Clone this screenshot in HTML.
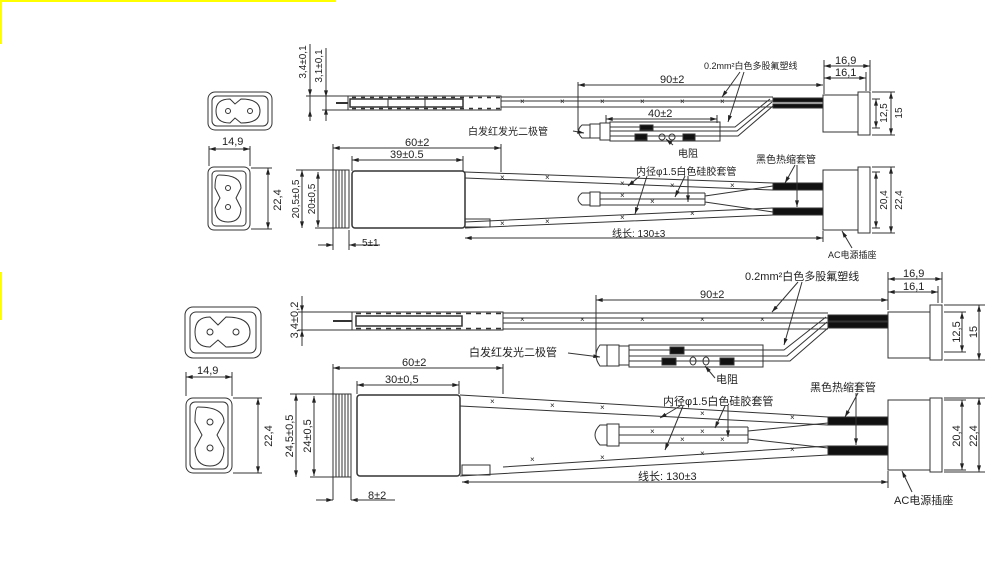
<!DOCTYPE html>
<html><head><meta charset="utf-8"><style>
body{margin:0;background:#fff;}
svg{display:block;font-family:"Liberation Sans","Noto Sans CJK SC",sans-serif;}
text{fill:#222;}
</style></head><body>
<svg width="994" height="580" viewBox="0 0 994 580" xmlns="http://www.w3.org/2000/svg">
<defs>
<marker id="a" viewBox="0 0 10 6" refX="10" refY="3" markerWidth="7" markerHeight="4" orient="auto-start-reverse"><path d="M0,0L10,3L0,6z" fill="#222"/></marker>
</defs>
<rect x="0" y="0" width="336" height="2" fill="#ff0"/>
<rect x="0" y="0" width="2" height="44" fill="#ff0"/>
<rect x="0" y="272" width="2" height="48" fill="#ff0"/>
<g stroke="#333" stroke-width="1" fill="none">
<!-- ===== TOP SECTION ===== -->
<rect x="208" y="92" width="64" height="38" rx="7"/>
<rect x="212" y="96" width="56" height="30" rx="5"/>
<path d="M230,99 L235,104 L241,99 Q260,99 260,111 Q260,123 241,123 L235,118 L230,123 Q216,123 216,111 Q216,99 230,99z"/>
<circle cx="228" cy="111" r="2.5"/><circle cx="250" cy="111" r="2.5"/>
<rect x="208" y="167" width="42" height="63" rx="6"/>
<rect x="212" y="171" width="34" height="55" rx="4"/>
<path d="M219,175 Q241,175 241,188 L236,198 L241,208 Q241,222 228,222 Q215,222 215,208 L220,198 L215,188 Q215,175 219,175z"/>
<circle cx="228" cy="188" r="2.5"/><circle cx="228" cy="207" r="2.5"/>
<path d="M209,146 V166 M250,146 V166 M251,168 H272 M251,229 H272"/>
<line x1="209" y1="149" x2="250" y2="149" marker-start="url(#a)" marker-end="url(#a)"/>
<line x1="268" y1="168" x2="268" y2="229" marker-start="url(#a)" marker-end="url(#a)"/>
<!-- thin side view -->
<path d="M310,44 V121 M326,48 V121 M306,96 H348 M322,110 H348"/>
<line x1="310" y1="88" x2="310" y2="96" marker-end="url(#a)"/>
<line x1="310" y1="120" x2="310" y2="110" marker-end="url(#a)"/>
<line x1="326" y1="88" x2="326" y2="97" marker-end="url(#a)"/>
<line x1="326" y1="120" x2="326" y2="108" marker-end="url(#a)"/>
<path d="M336,103 H348" stroke-width="2"/>
<rect x="348" y="96" width="153" height="14"/>
<path d="M352,97.5 H500 M352,108.5 H500" stroke-dasharray="4,5" stroke-width="1.5"/>
<rect x="350" y="99" width="113" height="8" stroke-width="1.5"/>
<path d="M388,99V107 M425,99V107"/>
<path d="M501,97 H773 M501,101 H773 M501,107 H773"/>
<rect x="773" y="98" width="50" height="4" fill="#111"/>
<rect x="773" y="104" width="50" height="4" fill="#111"/>
<rect x="823" y="95" width="35" height="37"/>
<rect x="858" y="92" width="12" height="43"/>
<path d="M824,60 V94 M870,60 V91 M866,72 V91 M872,99 H880 M872,128 H880 M872,92 H895 M872,135 H895 M578,82 V130"/>
<line x1="824" y1="66" x2="870" y2="66" marker-start="url(#a)" marker-end="url(#a)"/>
<line x1="824" y1="78" x2="866" y2="78" marker-start="url(#a)" marker-end="url(#a)"/>
<line x1="876" y1="99" x2="876" y2="128" marker-start="url(#a)" marker-end="url(#a)"/>
<line x1="891" y1="92" x2="891" y2="135" marker-start="url(#a)" marker-end="url(#a)"/>
<line x1="578" y1="85" x2="823" y2="85" marker-start="url(#a)" marker-end="url(#a)"/>
<!-- LED assembly -->
<path d="M590,125 H582 Q575,131 582,138 H590z"/>
<rect x="590" y="124" width="10" height="14"/>
<rect x="600" y="123" width="10" height="17"/>
<rect x="610" y="122" width="110" height="19"/>
<path d="M610,127 H720 M610,131 H720 M610,136 H720"/>
<rect x="640" y="125" width="13" height="5" fill="#111"/>
<rect x="635" y="134" width="12" height="6" fill="#111"/>
<rect x="683" y="134" width="12" height="6" fill="#111"/>
<ellipse cx="662" cy="137" rx="3" ry="3"/><ellipse cx="672" cy="137" rx="3" ry="3"/>
<path d="M720,127 H735 L770,99 M720,136 H738 L773,106 M720,131 H737 L772,102"/>
<line x1="606" y1="119" x2="717" y2="119" marker-start="url(#a)" marker-end="url(#a)"/>
<path d="M606,115 V123 M717,115 V123"/>
<line x1="740" y1="72" x2="722" y2="97" marker-end="url(#a)"/>
<line x1="744" y1="72" x2="728" y2="122" marker-end="url(#a)"/>
<line x1="573" y1="131" x2="584" y2="133" marker-end="url(#a)"/>
<line x1="673" y1="145" x2="666" y2="139" marker-end="url(#a)"/>
<!-- bottom view -->
<path d="M333,144 V250 M501,144 V172 M352,156 V171 M463,156 V171 M296,170 H333 M315,228 H333 M349,230 V250"/>
<line x1="333" y1="148" x2="501" y2="148" marker-start="url(#a)" marker-end="url(#a)"/>
<line x1="352" y1="160" x2="463" y2="160" marker-start="url(#a)" marker-end="url(#a)"/>
<line x1="302" y1="170" x2="302" y2="228" marker-start="url(#a)" marker-end="url(#a)"/>
<line x1="318" y1="172" x2="318" y2="227" marker-start="url(#a)" marker-end="url(#a)"/>
<line x1="318" y1="245" x2="333" y2="245" marker-end="url(#a)"/>
<line x1="365" y1="245" x2="349" y2="245" marker-end="url(#a)"/>
<path d="M349,245 H380"/>
<rect x="333" y="170" width="16" height="58"/>
<path d="M336,170V228M339,170V228M342,170V228M345,170V228"/>
<rect x="352" y="171" width="113" height="57" rx="3" stroke-width="1.5"/>
<path d="M465,172 L773,183 M465,178 L773,190 M465,228 L773,215 M465,222 L773,208"/>
<rect x="465" y="219" width="25" height="8"/>
<rect x="773" y="183" width="50" height="7" fill="#111"/>
<rect x="773" y="208" width="50" height="7" fill="#111"/>
<path d="M590,193 H582 Q574,199 582,205 H590z"/>
<rect x="590" y="192" width="10" height="14"/>
<path d="M600,193 H705 M600,199 H705 M600,205 H705 M705,193 V205 M705,196 L773,186 M705,202 L773,212"/>
<rect x="823" y="170" width="35" height="60"/>
<rect x="858" y="167" width="12" height="66"/>
<path d="M872,172 H880 M872,228 H880 M872,167 H895 M872,233 H895 M823,231 V242"/>
<line x1="876" y1="172" x2="876" y2="228" marker-start="url(#a)" marker-end="url(#a)"/>
<line x1="891" y1="167" x2="891" y2="233" marker-start="url(#a)" marker-end="url(#a)"/>
<line x1="465" y1="238" x2="823" y2="238" marker-start="url(#a)" marker-end="url(#a)"/>
<line x1="640" y1="176" x2="628" y2="186" marker-end="url(#a)"/>
<line x1="647" y1="176" x2="635" y2="214" marker-end="url(#a)"/>
<line x1="685" y1="176" x2="675" y2="197" marker-end="url(#a)"/>
<line x1="688" y1="176" x2="688" y2="202" marker-end="url(#a)"/>
<line x1="795" y1="165" x2="785" y2="183" marker-end="url(#a)"/>
<line x1="797" y1="165" x2="797" y2="207" marker-end="url(#a)"/>
<line x1="852" y1="248" x2="842" y2="231" marker-end="url(#a)"/>
<!-- ===== BOTTOM SECTION ===== -->
<rect x="185" y="307" width="76" height="51" rx="8"/>
<rect x="190" y="312" width="66" height="41" rx="6"/>
<path d="M210,317 L218,325 L226,317 Q250,317 250,332 Q250,347 226,347 L218,340 L210,347 Q195,347 195,332 Q195,317 210,317z"/>
<circle cx="210" cy="332" r="3"/><circle cx="236" cy="332" r="3"/>
<rect x="186" y="398" width="46" height="75" rx="7"/>
<rect x="190" y="402" width="38" height="67" rx="5"/>
<path d="M198,407 Q224,407 224,422 L217,435 L224,448 Q224,466 210,466 Q195,466 195,448 L202,435 L195,422 Q195,407 198,407z"/>
<circle cx="210" cy="422" r="3"/><circle cx="210" cy="448" r="3"/>
<path d="M186,372 V396 M232,372 V396 M233,398 H262 M233,473 H262"/>
<line x1="186" y1="377" x2="232" y2="377" marker-start="url(#a)" marker-end="url(#a)"/>
<line x1="258" y1="398" x2="258" y2="473" marker-start="url(#a)" marker-end="url(#a)"/>
<path d="M302,296 V346 M298,312 H352 M298,330 H352"/>
<line x1="302" y1="300" x2="302" y2="312" marker-end="url(#a)"/>
<line x1="302" y1="342" x2="302" y2="330" marker-end="url(#a)"/>
<path d="M333,321 H352" stroke-width="2"/>
<rect x="352" y="312" width="151" height="18"/>
<path d="M356,313.5 H502 M356,328.5 H502" stroke-dasharray="5,5" stroke-width="1.5"/>
<rect x="356" y="316" width="106" height="10" stroke-width="1.5"/>
<path d="M503,313 H828 M503,318 H828 M503,323 H828 M503,329 H828"/>
<rect x="828" y="315" width="60" height="6" fill="#111"/>
<rect x="828" y="322" width="60" height="6" fill="#111"/>
<rect x="888" y="312" width="42" height="46"/>
<rect x="930" y="305" width="12" height="55"/>
<path d="M888,272 V310 M942,272 V303 M938,286 V303 M944,312 H966 M944,352 H966 M944,305 H985 M944,360 H985 M596,295 V355"/>
<line x1="888" y1="279" x2="942" y2="279" marker-start="url(#a)" marker-end="url(#a)"/>
<line x1="888" y1="292" x2="938" y2="292" marker-start="url(#a)" marker-end="url(#a)"/>
<line x1="962" y1="312" x2="962" y2="352" marker-start="url(#a)" marker-end="url(#a)"/>
<line x1="979" y1="305" x2="979" y2="360" marker-start="url(#a)" marker-end="url(#a)"/>
<line x1="596" y1="300" x2="888" y2="300" marker-start="url(#a)" marker-end="url(#a)"/>
<path d="M607,345 H600 Q592,355 600,366 H607z"/>
<rect x="607" y="345" width="12" height="21"/>
<rect x="619" y="346" width="10" height="19"/>
<rect x="629" y="345" width="134" height="22"/>
<path d="M629,350 H763 M629,356 H763 M629,361 H763"/>
<rect x="670" y="347" width="14" height="7" fill="#111"/>
<rect x="662" y="358" width="14" height="7" fill="#111"/>
<rect x="720" y="358" width="14" height="7" fill="#111"/>
<ellipse cx="693" cy="361" rx="3" ry="4"/><ellipse cx="706" cy="361" rx="3" ry="4"/>
<path d="M763,350 H784 L826,317 M763,361 H790 L828,328 M763,356 H787 L827,322"/>
<line x1="798" y1="282" x2="772" y2="312" marker-end="url(#a)"/>
<line x1="802" y1="282" x2="784" y2="345" marker-end="url(#a)"/>
<line x1="568" y1="353" x2="600" y2="357" marker-end="url(#a)"/>
<line x1="715" y1="378" x2="705" y2="366" marker-end="url(#a)"/>
<path d="M333,364 V500 M503,364 V394 M357,381 V394 M459,381 V394 M290,394 H333 M310,477 H333 M351,477 V500"/>
<line x1="333" y1="368" x2="503" y2="368" marker-start="url(#a)" marker-end="url(#a)"/>
<line x1="357" y1="385" x2="459" y2="385" marker-start="url(#a)" marker-end="url(#a)"/>
<line x1="296" y1="394" x2="296" y2="477" marker-start="url(#a)" marker-end="url(#a)"/>
<line x1="314" y1="396" x2="314" y2="476" marker-start="url(#a)" marker-end="url(#a)"/>
<line x1="316" y1="500" x2="333" y2="500" marker-end="url(#a)"/>
<line x1="368" y1="500" x2="351" y2="500" marker-end="url(#a)"/>
<path d="M351,500 H395"/>
<rect x="333" y="394" width="18" height="83"/>
<path d="M336,394V477M339,394V477M342,394V477M345,394V477M348,394V477"/>
<rect x="357" y="395" width="103" height="81" rx="3" stroke-width="1.5"/>
<path d="M460,395 L828,417 M460,406 L828,425 M460,476 L828,455 M503,467 L828,446"/>
<rect x="462" y="465" width="28" height="10"/>
<rect x="828" y="417" width="60" height="8" fill="#111"/>
<rect x="828" y="446" width="60" height="9" fill="#111"/>
<path d="M607,425 H600 Q590,435 600,445 H607z"/>
<rect x="607" y="424" width="12" height="22"/>
<path d="M619,427 H748 M619,435 H748 M619,443 H748 M748,427 V443 M748,431 L828,423 M748,439 L828,448"/>
<rect x="888" y="400" width="42" height="70"/>
<rect x="930" y="398" width="12" height="74"/>
<path d="M944,400 H966 M944,470 H966 M944,398 H985 M944,472 H985 M888,471 V488"/>
<line x1="962" y1="400" x2="962" y2="470" marker-start="url(#a)" marker-end="url(#a)"/>
<line x1="979" y1="398" x2="979" y2="472" marker-start="url(#a)" marker-end="url(#a)"/>
<line x1="462" y1="482" x2="888" y2="482" marker-start="url(#a)" marker-end="url(#a)"/>
<line x1="680" y1="406" x2="660" y2="418" marker-end="url(#a)"/>
<line x1="683" y1="406" x2="665" y2="450" marker-end="url(#a)"/>
<line x1="725" y1="406" x2="715" y2="428" marker-end="url(#a)"/>
<line x1="728" y1="406" x2="728" y2="437" marker-end="url(#a)"/>
<line x1="858" y1="393" x2="845" y2="417" marker-end="url(#a)"/>
<line x1="856" y1="393" x2="856" y2="445" marker-end="url(#a)"/>
<line x1="912" y1="492" x2="902" y2="471" marker-end="url(#a)"/>
</g>
<!-- wire x marks -->
<g font-size="8" fill="#444">
<text x="520" y="104">×</text><text x="560" y="104">×</text><text x="600" y="104">×</text><text x="640" y="104">×</text><text x="680" y="104">×</text><text x="720" y="104">×</text>
<text x="500" y="180">×</text><text x="545" y="180">×</text><text x="620" y="186">×</text><text x="670" y="188">×</text><text x="730" y="188">×</text>
<text x="500" y="226">×</text><text x="545" y="224">×</text><text x="620" y="220">×</text><text x="690" y="216">×</text>
<text x="620" y="198">×</text><text x="650" y="204">×</text>
<text x="520" y="322">×</text><text x="580" y="322">×</text><text x="640" y="322">×</text><text x="700" y="322">×</text><text x="760" y="322">×</text>
<text x="490" y="404">×</text><text x="550" y="408">×</text><text x="600" y="410">×</text><text x="700" y="416">×</text><text x="790" y="420">×</text>
<text x="530" y="462">×</text><text x="600" y="460">×</text><text x="700" y="456">×</text><text x="790" y="452">×</text>
<text x="650" y="434">×</text><text x="700" y="434">×</text><text x="680" y="442">×</text><text x="720" y="442">×</text>
</g>
<g font-size="11">
<text x="222" y="145">14,9</text>
<text transform="translate(281,200) rotate(-90)" text-anchor="middle">22,4</text>
<text transform="translate(306,62) rotate(-90)" text-anchor="middle" font-size="10">3,4±0,1</text>
<text transform="translate(322,66) rotate(-90)" text-anchor="middle" font-size="10">3,1±0,1</text>
<text x="405" y="146">60±2</text>
<text x="390" y="158">39±0.5</text>
<text transform="translate(299,199) rotate(-90)" text-anchor="middle" font-size="10">20,5±0,5</text>
<text transform="translate(315,199) rotate(-90)" text-anchor="middle" font-size="10">20±0,5</text>
<text x="362" y="246" font-size="10">5±1</text>
<text x="660" y="83">90±2</text>
<text x="648" y="117">40±2</text>
<text x="835" y="64">16,9</text>
<text x="835" y="76">16,1</text>
<text transform="translate(887,113) rotate(-90)" text-anchor="middle" font-size="10">12,5</text>
<text transform="translate(902,113) rotate(-90)" text-anchor="middle" font-size="10">15</text>
<text transform="translate(887,200) rotate(-90)" text-anchor="middle" font-size="10">20,4</text>
<text transform="translate(902,200) rotate(-90)" text-anchor="middle" font-size="10">22,4</text>
<text x="704" y="69" font-size="9">0.2mm²白色多股氟塑线</text>
<text x="468" y="135" font-size="10">白发红发光二极管</text>
<text x="678" y="157" font-size="10">电阻</text>
<text x="636" y="175" font-size="10">内径φ1.5白色硅胶套管</text>
<text x="756" y="163" font-size="10">黑色热缩套管</text>
<text x="612" y="237" font-size="10">线长: 130±3</text>
<text x="828" y="258" font-size="9">AC电源插座</text>

<text x="197" y="374">14,9</text>
<text transform="translate(272,436) rotate(-90)" text-anchor="middle">22,4</text>
<text transform="translate(298,320) rotate(-90)" text-anchor="middle">3,4±0,2</text>
<text x="402" y="366">60±2</text>
<text x="385" y="383">30±0,5</text>
<text transform="translate(293,436) rotate(-90)" text-anchor="middle">24,5±0,5</text>
<text transform="translate(311,436) rotate(-90)" text-anchor="middle">24±0,5</text>
<text x="368" y="499">8±2</text>
<text x="700" y="298">90±2</text>
<text x="903" y="277">16,9</text>
<text x="903" y="290">16,1</text>
<text transform="translate(960,332) rotate(-90)" text-anchor="middle">12,5</text>
<text transform="translate(977,332) rotate(-90)" text-anchor="middle">15</text>
<text transform="translate(960,436) rotate(-90)" text-anchor="middle">20,4</text>
<text transform="translate(977,436) rotate(-90)" text-anchor="middle">22,4</text>
<text x="745" y="280">0.2mm²白色多股氟塑线</text>
<text x="469" y="356">白发红发光二极管</text>
<text x="716" y="383">电阻</text>
<text x="663" y="405">内径φ1.5白色硅胶套管</text>
<text x="810" y="391">黑色热缩套管</text>
<text x="638" y="480">线长: 130±3</text>
<text x="894" y="504">AC电源插座</text>
</g>
</svg>
</body></html>
